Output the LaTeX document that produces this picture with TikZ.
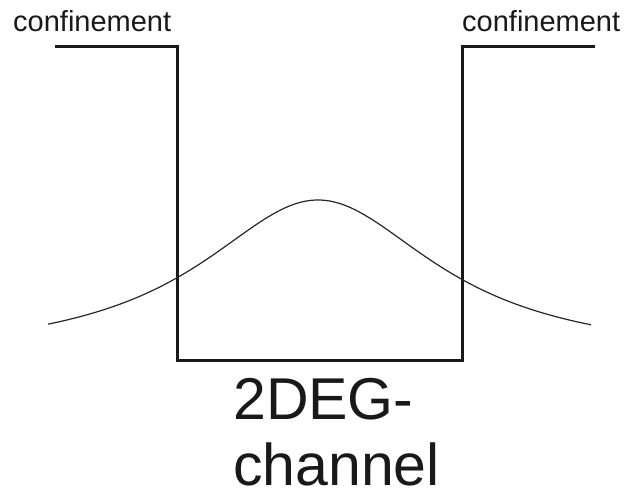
\documentclass[tikz,border=0pt]{standalone}
\usepackage{fontspec}
\setmainfont{Liberation Sans}
\begin{document}
\begin{tikzpicture}[x=1pt,y=-1pt,
  wall/.style={line width=3pt,line join=miter,color=black!90},
  wave/.style={line width=1.2pt,color=black!85},
  lbl/.style={inner sep=0pt,anchor=base west,text=black!90,font=\fontsize{29}{34}\selectfont},
  big/.style={inner sep=0pt,anchor=base west,text=black!90,font=\fontsize{59}{68}\selectfont}]
\useasboundingbox (0,0) rectangle (630,494);
% well profile
\coordinate (l0) at (55,47);
\coordinate (l1) at (177,47);
\coordinate (b0) at (177,361);
\coordinate (b1) at (462,361);
\coordinate (r1) at (462,47);
\coordinate (r0) at (595,47);
\draw[wall] (l0) -- (l1) -- (b0) -- (b1) -- (r1) -- (r0);
% wave function
\draw[wave] plot[domain=48:591,samples=160,smooth] (\x,{360-160/(1+((\x-318)/145)^2)});
% labels
\node[lbl] (cl) at (13,32) {confinement};
\node[lbl] (cr) at (462,32) {confinement};
\node[big] (t1) at (233,420) {2DEG-};
\node[big] (t2) at (233,486) {channel};
\end{tikzpicture}
\end{document}
